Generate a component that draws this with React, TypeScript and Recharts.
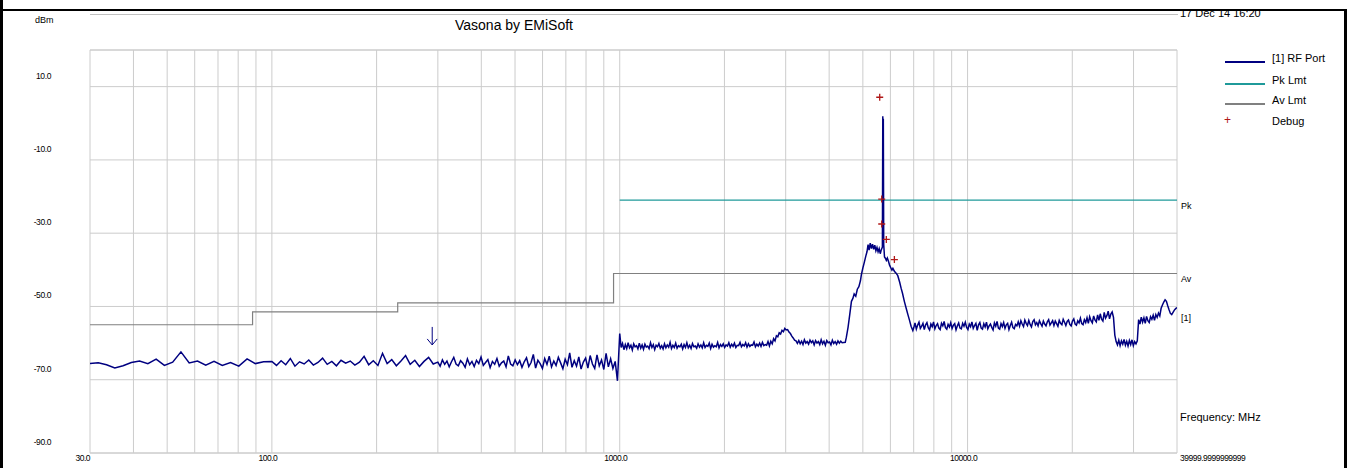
import { ComposedChart, Line, Scatter, XAxis, YAxis, CartesianGrid, ReferenceLine } from 'recharts'

const W = 1365
const H = 468
const FONT = '"Liberation Sans", Arial, sans-serif'

const yTicks = [-90, -70, -50, -30, -10, 10]
const xTicks = [30, 100, 1000, 10000, 39999.9999999999]
const xTickLabels = ['30.0', '100.0', '1000.0', '10000.0', '39999.9999999999']
const gridFreqs = [
  30, 40, 50, 60, 70, 80, 90, 100, 200, 300, 400, 500, 600, 700, 800, 900,
  1000, 2000, 3000, 4000, 5000, 6000, 7000, 8000, 9000, 10000, 20000, 30000, 40000,
]

// limits
const avFreq = [30, 88, 230, 960, 40000]
const avLevel = [-55, -51.5, -49, -41, -41]
const pkFreq = [1000, 40000]
const pkLevel = [-21, -21]

// RF port sweep
const band30to100 = [
  -65.6, -65.4, -65.9, -66.8, -66.2, -65.3, -64.9, -65.6, -64.4, -66.1, -65.2,
  -62.4, -65.4, -64.9, -66.0, -65.0, -66.1, -65.3, -66.3, -64.3, -65.6, -65.1,
]
const band100to300 = [
  -65.0, -66.1, -64.8, -65.9, -64.2, -66.3, -65.1, -65.7, -64.6, -66.0, -65.3, -64.1,
  -65.8, -65.0, -66.2, -64.7, -65.5, -64.9, -66.0, -65.2, -63.6, -65.9, -64.8, -66.1,
  -62.8, -65.6, -64.5, -66.2, -64.9, -63.4, -65.8, -64.7, -66.4, -65.0, -63.9, -65.7,
]
const band300to1000 = [
  -65.2, -66.3, -64.6, -65.8, -64.9, -66.5, -65.1, -63.9, -65.7, -66.2,
  -64.8, -65.5, -66.6, -64.3, -65.9, -65.0, -66.4, -64.7, -65.6, -63.8,
  -66.1, -65.3, -64.5, -66.7, -65.0, -65.8, -64.2, -66.3, -65.4, -64.9,
  -66.5, -63.5, -65.7, -66.2, -64.6, -65.9, -64.8, -66.6, -65.1, -64.0,
  -66.4, -65.3, -63.1, -66.8, -64.7, -65.6, -66.9, -64.2, -65.8, -63.6,
  -66.5, -64.9, -66.1, -63.9, -65.4, -67.0, -64.4, -65.9, -62.7, -66.6,
  -64.8, -66.3, -63.8, -67.1, -65.2, -64.1, -66.8, -63.4, -65.7, -66.9,
  -63.2, -66.2, -64.6, -67.2, -62.8, -66.5, -64.3, -66.9, -65.0, -70.3,
]
const band1000to4400 = [
  -57.4, -61.2, -60.1, -61.8, -60.4, -61.5, -59.9, -61.3, -60.6, -61.9, -60.2, -61.0, -60.7, -61.6, -60.0, -61.4, -60.5, -61.7, -60.3, -61.1,
  -60.8, -61.5, -59.9, -61.2, -60.4, -61.8, -60.6, -61.0, -60.1, -61.4, -60.7, -61.6, -60.2, -61.3, -60.5, -61.1, -59.8, -61.5, -60.6, -61.2,
  -60.0, -61.4, -60.7, -61.0, -60.3, -61.6, -60.4, -61.2, -59.9, -61.3, -60.6, -61.5, -60.1, -61.0, -60.8, -61.4, -60.2, -61.1, -60.5, -61.3,
  -59.9, -61.2, -60.6, -60.9, -60.0, -61.5, -60.3, -61.1, -60.7, -61.0, -59.8, -61.3, -60.4, -60.9, -60.2, -61.2, -60.5, -60.8, -59.9, -61.1,
  -60.3, -60.9, -60.0, -61.2, -60.6, -60.7, -59.8, -61.0, -60.4, -60.8, -59.9, -61.1, -60.2, -60.9, -60.5, -60.6, -59.7, -61.0, -60.3, -60.8,
  -60.0, -60.9, -59.8, -60.7, -60.4, -60.6, -59.6, -60.8, -59.5, -60.2, -58.8, -59.4, -58.0, -58.3, -57.2, -57.5, -56.5, -56.9, -56.0, -56.4,
  -56.3, -57.0, -57.4, -58.1, -58.6, -59.2, -59.4, -60.1, -59.3, -60.2, -59.5, -60.4, -59.1, -60.0, -59.6, -60.3, -59.2, -59.9, -59.4, -60.5,
  -59.3, -60.0, -59.6, -60.4, -59.1, -60.2, -59.5, -60.6, -59.3, -59.9, -59.7, -60.5, -59.2, -60.1, -59.6, -60.3, -59.4, -60.0, -59.5, -59.9,
]
const peakFreq = [
  4450, 4483, 4533, 4580, 4636, 4680, 4720, 4770, 4820, 4870, 4920, 4954, 5000, 5050,
  5100, 5140, 5175, 5210, 5250, 5290, 5330, 5370, 5410, 5450, 5490, 5530, 5570, 5610,
  5650, 5690, 5705, 5715, 5725, 5740, 5770, 5810, 5840, 5880, 5920, 5970, 6020, 6060,
  6100, 6160, 6230, 6300, 6380, 6440, 6500, 6580, 6660, 6740, 6810, 6880, 6960,
]
const peakLevel = [
  -59.8, -58.4, -55.7, -52.5, -48.6, -47.8, -46.6, -47.2, -45.3, -44.6, -43.0, -41.2, -39.5, -37.9,
  -36.2, -35.0, -33.1, -34.6, -32.7, -34.2, -33.0, -34.4, -33.3, -34.8, -33.9, -35.1, -34.2, -35.6,
  -34.5, -33.8, 1.9, -20.0, 1.2, -33.0, -36.5, -36.9, -37.4, -36.8, -37.6, -38.8, -39.5, -40.1,
  -39.6, -40.4, -40.9, -41.6, -43.4, -45.0, -46.4, -48.6, -50.5, -52.3, -53.8, -55.4, -56.6,
]
const band7000to40000 = [
  -55.9, -54.5, -56.2, -55.1, -54.3, -56.0, -55.4, -54.6, -56.3, -55.0, -54.4, -55.8, -56.4, -54.8, -55.5, -54.2, -56.1, -55.2, -54.7, -55.9,
  -56.3, -54.6, -55.3, -54.1, -55.8, -56.2, -54.9, -55.6, -54.4, -56.0, -55.1, -54.7, -56.4, -55.3, -54.5, -55.9, -56.1, -54.6, -55.4, -54.3,
  -55.7, -56.3, -54.8, -55.5, -54.2, -56.0, -55.2, -54.6, -56.5, -55.0, -54.4, -55.9, -56.2, -54.7, -55.6, -54.3, -56.1, -55.3, -54.8, -55.7,
  -56.4, -54.5, -55.4, -54.1, -55.9, -56.2, -54.7, -55.5, -54.4, -56.0, -55.0, -54.6, -56.3, -55.2, -54.3, -55.8, -56.1, -54.9, -55.3, -54.2,
  -55.4, -53.9, -54.8, -55.5, -53.7, -54.6, -55.2, -53.8, -54.9, -55.6, -54.1, -53.6, -55.0, -54.4, -55.3, -53.9, -54.7, -55.4, -54.0, -54.8,
  -55.3, -54.2, -53.6, -55.1, -54.5, -53.9, -55.2, -54.0, -54.7, -55.4, -53.8, -54.6, -55.0, -53.5, -54.3, -55.2, -54.1, -53.7, -54.9, -55.3,
  -54.0, -53.4, -54.8, -55.1, -53.9, -54.5, -53.2, -54.7, -55.0, -53.6, -54.4, -53.1, -54.6, -52.8, -53.9, -54.5, -52.6, -53.7, -54.2, -52.3,
  -53.8, -52.0, -53.5, -54.0, -51.6, -53.2, -52.5, -51.3, -53.4, -52.1, -51.5, -53.0,
  -57.8, -59.6, -60.5, -59.2, -60.7, -59.4, -60.3, -59.0, -60.6, -59.5, -60.8, -59.3, -60.4, -59.1, -60.7, -59.6, -60.2, -59.4,
  -53.6, -54.8, -52.9, -54.3, -53.1, -54.6, -52.7, -53.9, -54.4, -52.8, -53.5, -52.4, -53.8, -52.2, -53.0, -51.8, -52.6,
  -50.5, -49.6, -48.8, -48.2, -48.6, -49.8, -50.9,
  -51.9, -52.2, -51.6, -51.0, -50.6, -50.3,
]

const debugFreq = [5590, 5665, 5665, 5840, 6160]
const debugLevel = [7.1, -20.7, -27.5, -31.7, -37.2]
const markerFreq = [289]
const markerLevel = [-60.5]

// sweep points are log spaced between band edges
const sweep = (start: number, stop: number, levels: number[], inclusive = false) => {
  const n = inclusive ? levels.length - 1 : levels.length
  return levels.map((v, i) => ({ f: start * Math.pow(stop / start, i / n), v }))
}

const rfData = [
  ...sweep(30, 100, band30to100),
  ...sweep(100, 300, band100to300),
  ...sweep(300, 1000, band300to1000),
  ...sweep(1000, 4400, band1000to4400),
  ...peakFreq.map((f, i) => ({ f, v: peakLevel[i] })),
  ...sweep(7000, 40000, band7000to40000, true),
]
const avData = avFreq.map((f, i) => ({ f, v: avLevel[i] }))
const pkData = pkFreq.map((f, i) => ({ f, v: pkLevel[i] }))
const debugData = debugFreq.map((f, i) => ({ f, v: debugLevel[i] }))
const markerData = markerFreq.map((f, i) => ({ f, v: markerLevel[i] }))

const NAVY = '#000080'
const TEAL = '#1f9a9a'
const GREY = '#808080'
const RED = '#b01818'
const GRID = '#cccccc'

const YTick = (props: any) => (
  <text x={51} y={props.y - 11} textAnchor="end" dominantBaseline="central"
    fontSize={8.5} letterSpacing={-0.4} fontFamily={FONT} fill="#000">
    {Number(props.payload.value).toFixed(1)}
  </text>
)

const XTick = (props: any) => {
  const i = xTicks.indexOf(props.payload.value)
  const last = i === xTicks.length - 1
  const anchor = i === 0 ? 'end' : last ? 'start' : 'middle'
  const dx = i === 0 ? 0 : last ? 3 : -4
  return (
    <text x={props.x + dx} y={458} textAnchor={anchor} dominantBaseline="central"
      fontSize={8.5} letterSpacing={-0.5} fontFamily={FONT} fill="#000">
      {xTickLabels[i]}
    </text>
  )
}

const Plus = (props: any) => {
  const { cx, cy } = props
  return (
    <path d={`M${cx - 3.5},${cy}H${cx + 3.5}M${cx},${cy - 3.5}V${cy + 3.5}`}
      stroke={RED} strokeWidth={1.3} fill="none" />
  )
}

const Arrow = (props: any) => {
  const { cx, cy } = props
  return (
    <path d={`M${cx},${cy - 18}V${cy}M${cx - 5},${cy - 6}L${cx},${cy}L${cx + 5},${cy - 6}`}
      stroke={NAVY} strokeWidth={1} fill="none" />
  )
}

const Txt = ({ x, y, size = 11, children, center = false }: any) => (
  <div style={{
    position: 'absolute', left: x, top: y, transform: center ? 'translate(-50%,-50%)' : 'translateY(-50%)',
    fontSize: size, lineHeight: 1, whiteSpace: 'nowrap', color: '#000', fontFamily: FONT,
  }}>{children}</div>
)

const legendItems = [
  { name: '[1] RF Port', color: NAVY, y: 61 },
  { name: 'Pk Lmt', color: TEAL, y: 83 },
  { name: 'Av Lmt', color: GREY, y: 103 },
]

export default function App() {
  return (
    <div style={{ position: 'absolute', left: 0, top: 0, width: W, height: H, background: '#fff', overflow: 'hidden' }}>
      <ComposedChart width={W} height={H} margin={{ top: 50, right: 188, left: 0, bottom: 0 }}>
        <XAxis dataKey="f" type="number" scale="log" domain={[30, 40000]} allowDataOverflow
          ticks={xTicks} tick={<XTick />} axisLine={false} tickLine={false} height={15} interval={0} />
        <YAxis type="number" domain={[-90, 20]} ticks={yTicks} tick={<YTick />} width={90}
          axisLine={false} tickLine={false} allowDataOverflow interval={0} />
        <CartesianGrid vertical={false} stroke={GRID} strokeWidth={1} />
        {gridFreqs.map((f) => (
          <ReferenceLine key={f} x={f} stroke={GRID} strokeWidth={1} />
        ))}
        <ReferenceLine y={20} stroke={GRID} strokeWidth={1} />
        <ReferenceLine y={-90} stroke={GRID} strokeWidth={1} />
        <Line data={avData} dataKey="v" type="stepAfter" stroke={GREY} strokeWidth={1.2}
          dot={false} isAnimationActive={false} />
        <Line data={pkData} dataKey="v" type="linear" stroke={TEAL} strokeWidth={1.2}
          dot={false} isAnimationActive={false} />
        <Line data={rfData} dataKey="v" type="linear" stroke={NAVY} strokeWidth={1.5}
          dot={false} isAnimationActive={false} />
        <Scatter data={debugData} dataKey="v" shape={<Plus />} isAnimationActive={false} />
        <Scatter data={markerData} dataKey="v" shape={<Arrow />} isAnimationActive={false} />
      </ComposedChart>

      <div style={{ position: 'absolute', left: 0, top: 9, width: 1347, height: 2, background: '#000' }} />
      <div style={{ position: 'absolute', left: 0, top: 0, width: 3, height: H, background: '#000' }} />
      <div style={{ position: 'absolute', left: 1344, top: 9, width: 3, height: H - 9, background: '#000' }} />
      <div style={{ position: 'absolute', left: 90, top: 14, width: 1088, height: 1, background: '#c0c0c0' }} />

      <Txt x={35} y={20} size={9}>dBm</Txt>
      <Txt x={514} y={25} size={14} center>Vasona by EMiSoft</Txt>
      <Txt x={1180} y={13} size={11}>17 Dec 14 16:20</Txt>
      <Txt x={1180} y={417} size={11}>Frequency: MHz</Txt>
      <Txt x={1181} y={206} size={9}>Pk</Txt>
      <Txt x={1181} y={279} size={9}>Av</Txt>
      <Txt x={1181} y={318} size={9}>[1]</Txt>

      {legendItems.map((it) => (
        <div key={it.name}>
          <div style={{ position: 'absolute', left: 1225, top: it.y, width: 40, height: 1.5, background: it.color }} />
          <Txt x={1272} y={it.y - 3} size={11}>{it.name}</Txt>
        </div>
      ))}
      <div style={{ position: 'absolute', left: 1224, top: 116, width: 9, height: 9, color: RED, fontSize: 12, lineHeight: '9px', fontFamily: FONT }}>+</div>
      <Txt x={1272} y={121} size={11}>Debug</Txt>
    </div>
  )
}
